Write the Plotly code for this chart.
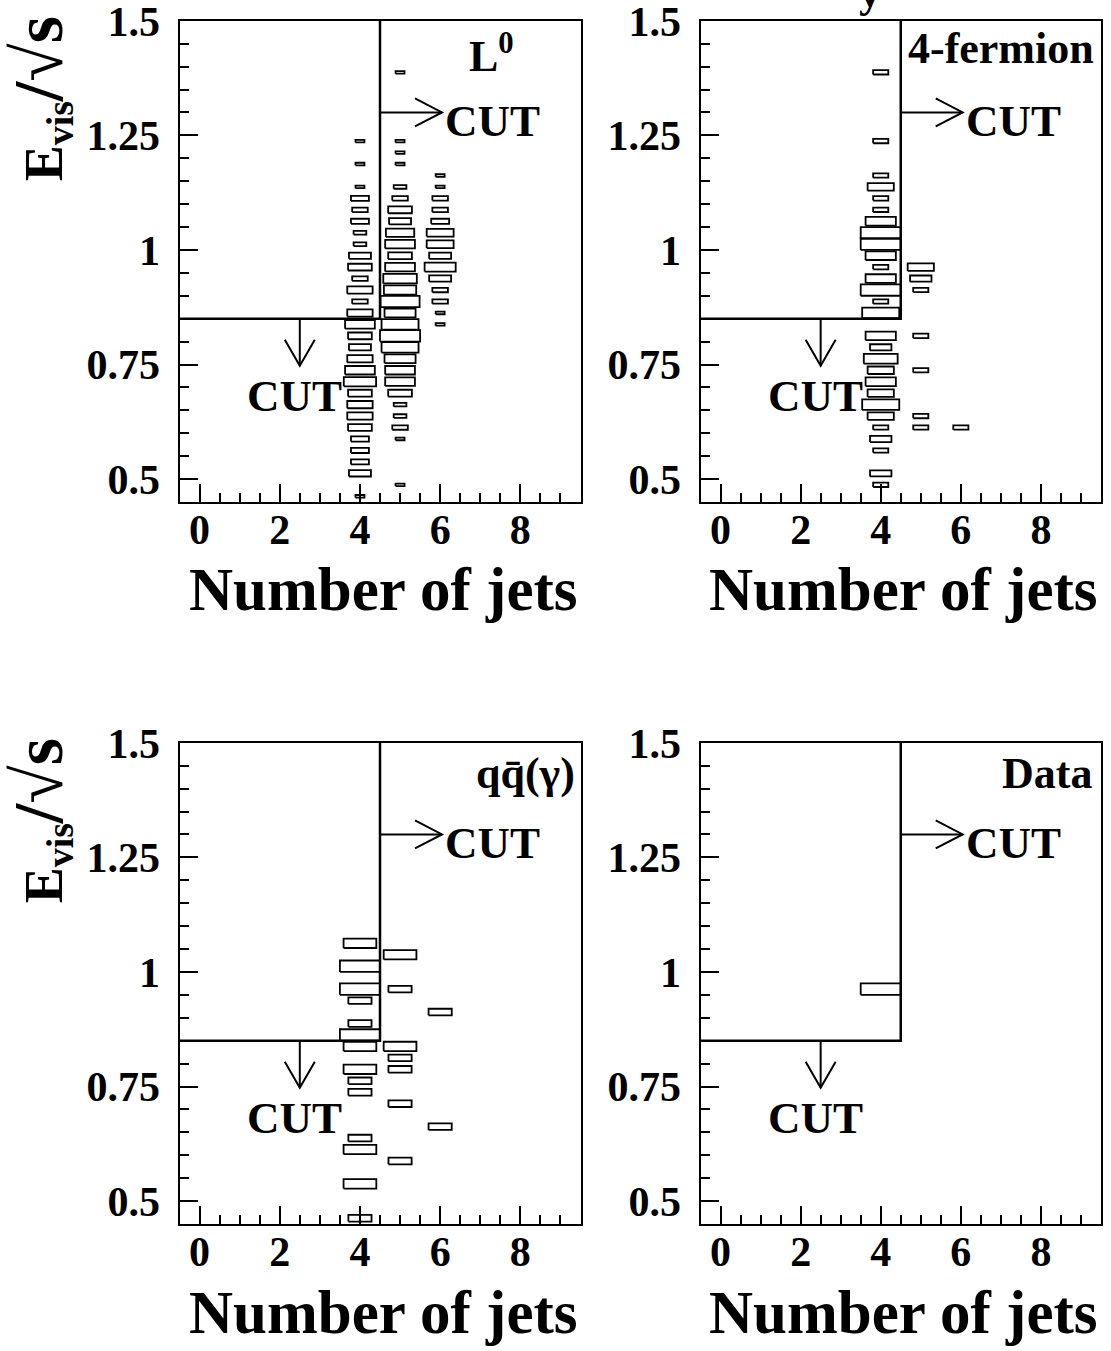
import math
import plotly.graph_objects as go

W, H = 1111, 1351

# ---------------- data (bin centres and bin contents) ----------------
# Evis/sqrt(s) bins are 0.025 wide, jet-multiplicity bins are 1 wide
# Panel 1 : L0 signal MC
L0_J4_EVIS = [1.2375, 1.1875, 1.1375, 1.1125, 1.0875, 1.0625, 1.0375, 1.0125, 0.9875, 0.9625,
              0.9375, 0.9125, 0.8875, 0.8625, 0.8375, 0.8125, 0.7875, 0.7625, 0.7375, 0.7125,
              0.6875, 0.6625, 0.6375, 0.6125, 0.5875, 0.5625, 0.5375, 0.5125, 0.4625]
L0_J4_N = [1, 1, 1, 4, 3, 4, 2, 2, 6, 7,
           3, 8, 3, 8, 11, 7, 6, 8, 11, 13,
           7, 8, 8, 7, 4, 4, 4, 6, 1]
L0_J5_EVIS = [1.3875, 1.2375, 1.2125, 1.1875, 1.1375, 1.1125, 1.0875, 1.0625, 1.0375, 1.0125,
              0.9875, 0.9625, 0.9375, 0.9125, 0.8875, 0.8625, 0.8375, 0.8125, 0.7875, 0.7625,
              0.7375, 0.7125, 0.6875, 0.6625, 0.6375, 0.6125, 0.5875, 0.4875]
L0_J5_N = [1, 1, 1, 1, 2, 3, 7, 6, 10, 11,
           7, 11, 14, 13, 19, 12, 17, 20, 17, 12,
           11, 11, 7, 2, 2, 3, 1, 1]
L0_J6_EVIS = [1.1625, 1.1375, 1.1125, 1.0875, 1.0625, 1.0375, 1.0125, 0.9875, 0.9625, 0.9375,
              0.9125, 0.8875, 0.8625, 0.8375]
L0_J6_N = [1, 1, 3, 3, 4, 9, 9, 6, 12, 6,
           3, 3, 1, 1]

# Panel 2 : 4-fermion MC
FF_J4_EVIS = [1.3875, 1.2375, 1.1625, 1.1375, 1.1125, 1.0875, 1.0625, 1.0375, 1.0125, 0.9875,
              0.9625, 0.9375, 0.9125, 0.8875, 0.8625, 0.8125, 0.7875, 0.7625, 0.7375, 0.7125,
              0.6875, 0.6625, 0.6375, 0.6125, 0.5875, 0.5625, 0.5125, 0.4875]
FF_J4_N = [1, 1, 1, 3, 1, 1, 4, 7, 7, 4,
           1, 4, 7, 1, 6, 4, 2, 5, 3, 4,
           3, 6, 3, 1, 2, 1, 2, 1]
FF_J5_EVIS = [0.9625, 0.9375, 0.9125, 0.8125, 0.7375, 0.6375, 0.6125]
FF_J5_N = [3, 2, 1, 1, 1, 1, 1]
FF_J6_EVIS = [0.6125]
FF_J6_N = [1]

# Panel 3 : qq(gamma) MC
QQ_J4_EVIS = [1.0625, 1.0125, 0.9625, 0.9375, 0.8875, 0.8625, 0.8375, 0.7875, 0.7625, 0.7375,
              0.6375, 0.6125, 0.5375, 0.4625]
QQ_J4_N = [2, 3, 3, 1, 1, 3, 2, 2, 1, 1,
           1, 2, 2, 1]
QQ_J5_EVIS = [1.0375, 0.9625, 0.8375, 0.8125, 0.7875, 0.7125, 0.5875]
QQ_J5_N = [2, 1, 2, 1, 1, 1, 1]
QQ_J6_EVIS = [0.9125, 0.6625]
QQ_J6_N = [1, 1]

# Panel 4 : Data
DATA_J4_EVIS = [0.9625]
DATA_J4_N = [1]

PANEL_LABELS = ["L<sup>0</sup>", "4-fermion", "qq\u0304(\u03b3)", "Data"]
X_TITLE = "Number of jets"
Y_TITLE = "E<sub>vis</sub><span style=\"font-size:70px\">/\u221as</span>"
X_TICKS = [0, 2, 4, 6, 8]
Y_TICKS = [0.5, 0.75, 1.0, 1.25, 1.5]
Y_TICK_TEXT = ["0.5", "0.75", "1", "1.25", "1.5"]

NJET_CUT = 4.5
EVIS_CUT = 0.85
JET_BIN = 1.0
E_BIN = 0.025
X_RANGE = [-0.5, 9.5]
Y_RANGE = [0.45, 1.5]

panels = [
    {"cols": [(4, L0_J4_EVIS, L0_J4_N), (5, L0_J5_EVIS, L0_J5_N), (6, L0_J6_EVIS, L0_J6_N)]},
    {"cols": [(4, FF_J4_EVIS, FF_J4_N), (5, FF_J5_EVIS, FF_J5_N), (6, FF_J6_EVIS, FF_J6_N)]},
    {"cols": [(4, QQ_J4_EVIS, QQ_J4_N), (5, QQ_J5_EVIS, QQ_J5_N), (6, QQ_J6_EVIS, QQ_J6_N)]},
    {"cols": [(4, DATA_J4_EVIS, DATA_J4_N)]},
]

# ---------------- layout geometry (pixels) ----------------
X_DOMS = [(179.5, 580.5), (700.5, 1101.0)]
Y_DOMS = [(20.8, 502.0), (742.8, 1224.0)]
FONT = "Liberation Serif"

fig = go.Figure()
shapes = []
annotations = []

# px per data unit (for arrow-head geometry)
PX_X = (X_DOMS[0][1] - X_DOMS[0][0]) / (X_RANGE[1] - X_RANGE[0])
PX_Y = (Y_DOMS[0][1] - Y_DOMS[0][0]) / (Y_RANGE[1] - Y_RANGE[0])

for i, p in enumerate(panels):
    k = i + 1
    sfx = "" if k == 1 else str(k)
    xa, ya = "x" + sfx, "y" + sfx
    col, row = i % 2, i // 2
    xd = X_DOMS[col]
    yd = Y_DOMS[row]

    cmax = max(max(c[2]) for c in p["cols"])
    xs, ys = [], []
    for nj, ev, cnt in p["cols"]:
        for e, c in zip(ev, cnt):
            f = math.sqrt(c / cmax)
            hw = 0.5 * JET_BIN * f
            hh = 0.5 * E_BIN * f
            xs += [nj - hw, nj + hw, nj + hw, nj - hw, nj - hw, None]
            ys += [e - hh, e - hh, e + hh, e + hh, e - hh, None]
    fig.add_trace(go.Scatter(x=xs, y=ys, mode="lines", line=dict(color="black", width=1.8),
                             xaxis=xa, yaxis=ya, hoverinfo="skip", showlegend=False))

    axfont = dict(family=FONT, size=42, color="black", weight="bold")
    fig.update_layout(**{
        ("xaxis" + sfx): dict(domain=[xd[0] / W, xd[1] / W], range=X_RANGE, anchor=ya,
                              automargin=False, ticklabeloverflow="allow",
                              tickmode="array", tickvals=X_TICKS, ticks="inside", ticklen=18,
                              tickwidth=1.5, tickcolor="black", showline=True, mirror=True,
                              linecolor="black", linewidth=2, showgrid=False, zeroline=False,
                              tickfont=axfont, ticklabelstandoff=-10,
                              minor=dict(tickmode="linear", tick0=0, dtick=0.5, ticks="inside",
                                         ticklen=9, tickwidth=1.5, tickcolor="black", showgrid=False)),
        ("yaxis" + sfx): dict(domain=[1 - yd[1] / H, 1 - yd[0] / H], range=Y_RANGE, anchor=xa,
                              automargin=False, ticklabeloverflow="allow",
                              tickmode="array", tickvals=Y_TICKS, ticktext=Y_TICK_TEXT,
                              ticks="inside", ticklen=18, tickwidth=1.5, tickcolor="black",
                              showline=True, mirror=True, linecolor="black", linewidth=2,
                              showgrid=False, zeroline=False, tickfont=axfont,
                              ticklabelstandoff=9,
                              minor=dict(tickmode="linear", tick0=0.5, dtick=0.05, ticks="inside",
                                         ticklen=9, tickwidth=1.5, tickcolor="black", showgrid=False)),
    })

    # cut boundary
    shapes.append(dict(type="path", xref=xa, yref=ya,
                       path=f"M {X_RANGE[0]},{EVIS_CUT} L {NJET_CUT},{EVIS_CUT} L {NJET_CUT},{Y_RANGE[1]}",
                       line=dict(color="black", width=2.5)))
    # horizontal arrow (njet cut)
    ay = 1.3
    tipx = NJET_CUT + 62 / PX_X
    hl, hwid = 27 / PX_X, 14 / PX_Y
    shapes.append(dict(type="line", xref=xa, yref=ya, x0=NJET_CUT, x1=tipx, y0=ay, y1=ay,
                       line=dict(color="black", width=2)))
    shapes.append(dict(type="path", xref=xa, yref=ya,
                       path=f"M {tipx - hl},{ay + hwid} L {tipx},{ay} L {tipx - hl},{ay - hwid}",
                       line=dict(color="black", width=2)))
    # vertical arrow (Evis cut)
    axx = 2.5
    tipy = EVIS_CUT - 47 / PX_Y
    vl, vw = 26 / PX_Y, 15 / PX_X
    shapes.append(dict(type="line", xref=xa, yref=ya, x0=axx, x1=axx, y0=EVIS_CUT, y1=tipy,
                       line=dict(color="black", width=2)))
    shapes.append(dict(type="path", xref=xa, yref=ya,
                       path=f"M {axx - vw},{tipy + vl} L {axx},{tipy} L {axx + vw},{tipy + vl}",
                       line=dict(color="black", width=2)))

    cutfont = dict(family=FONT, size=45, color="black", weight="bold")
    annotations.append(dict(text="CUT", xref=xa, yref=ya, x=tipx + 1 / PX_X, y=1.282,
                            xanchor="left", yanchor="middle", showarrow=False, font=cutfont))
    annotations.append(dict(text="CUT", xref=xa, yref=ya, x=2.375, y=0.682,
                            xanchor="center", yanchor="middle", showarrow=False, font=cutfont))

    # panel label
    lab_pos = [(7.9, 1.428), (9.38, 1.44), (9.42, 1.432), (9.32, 1.432)][i]
    annotations.append(dict(text=PANEL_LABELS[i], xref=xa, yref=ya, x=lab_pos[0], y=lab_pos[1],
                            xanchor="right", yanchor="middle", showarrow=False,
                            font=dict(family=FONT, size=44, color="black", weight="bold")))

    # x-axis title
    annotations.append(dict(text=X_TITLE, xref="paper", yref="paper", x=(xd[1] - 1) / W,
                            y=1 - (yd[1] + 88) / H, xanchor="right", yanchor="middle",
                            showarrow=False,
                            font=dict(family=FONT, size=61, color="black", weight="bold")))
    # y-axis title (left column only)
    if col == 0:
        annotations.append(dict(text=Y_TITLE, xref="paper", yref="paper", x=40 / W,
                                y=1 - (yd[0] - 6) / H, xanchor="center", yanchor="top",
                                textangle=-90, showarrow=False,
                                font=dict(family=FONT, size=54, color="black", weight="bold")))

# truncated title glyph at the very top
annotations.append(dict(text="y", xref="paper", yref="paper", x=870 / W, y=1 + 8 / H,
                        xanchor="center", yanchor="middle", showarrow=False,
                        font=dict(family=FONT, size=44, color="black", weight="bold")))

fig.update_layout(width=W, height=H, margin=dict(l=0, r=0, t=0, b=0, autoexpand=False),
                  paper_bgcolor="white", plot_bgcolor="white", showlegend=False,
                  shapes=shapes, annotations=annotations)

fig.write_html("out.html")
